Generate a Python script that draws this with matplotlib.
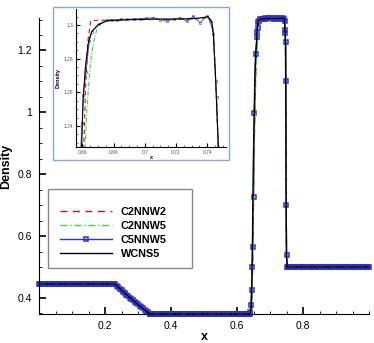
import numpy as np
import matplotlib
matplotlib.use("Agg")
import matplotlib.pyplot as plt
from matplotlib.patches import Rectangle
from matplotlib.ticker import MultipleLocator, FuncFormatter

plt.rcParams['font.family'] = ['Liberation Sans', 'DejaVu Sans']

# constant states
rho_left = 0.445
rho_low = 0.348
rho_right = 0.5

# rarefaction fan, the same for every scheme
x_fan = [0.230, 0.235, 0.240, 0.245, 0.250, 0.255, 0.260, 0.265, 0.270, 0.275, 0.280,
         0.285, 0.290, 0.295, 0.300, 0.305, 0.310, 0.315, 0.320, 0.325, 0.330, 0.335]
rho_fan = [0.445, 0.440, 0.435, 0.430, 0.425, 0.420, 0.416, 0.411, 0.406, 0.401, 0.397,
           0.392, 0.388, 0.383, 0.379, 0.374, 0.370, 0.366, 0.361, 0.357, 0.353, 0.348]

# contact / plateau / shock for each scheme
x_c2w2 = [0.642, 0.644, 0.646, 0.648, 0.650, 0.653, 0.656, 0.659, 0.661, 0.662, 0.6635,
          0.6654, 0.670, 0.690, 0.710, 0.730, 0.738, 0.7405, 0.7429, 0.744, 0.7455, 0.747,
          0.748, 0.749, 0.750, 0.752]
rho_c2w2 = [0.348, 0.36, 0.42, 0.55, 0.75, 0.95, 1.10, 1.20, 1.2276, 1.26, 1.29,
            1.3025, 1.3028, 1.3030, 1.3033, 1.3035, 1.3040, 1.3048, 1.3020, 1.294, 1.265, 1.2276,
            1.00, 0.70, 0.54, 0.50]

x_c2w5 = [0.642, 0.644, 0.646, 0.648, 0.650, 0.653, 0.656, 0.659, 0.6618, 0.663, 0.6645,
          0.666, 0.668, 0.670, 0.673, 0.680, 0.700, 0.720, 0.735, 0.7405, 0.7429, 0.744,
          0.7455, 0.747, 0.748, 0.749, 0.750, 0.752]
rho_c2w5 = [0.348, 0.36, 0.42, 0.55, 0.74, 0.93, 1.08, 1.18, 1.2276, 1.25, 1.27,
            1.283, 1.293, 1.299, 1.302, 1.3030, 1.3033, 1.3035, 1.3040, 1.3048, 1.3020, 1.294,
            1.266, 1.2276, 1.00, 0.70, 0.54, 0.50]

x_c5w5 = [0.638, 0.640, 0.642, 0.644, 0.646, 0.648, 0.650, 0.653, 0.6565, 0.660, 0.6607,
          0.6624, 0.6645, 0.666, 0.6705, 0.6756, 0.6790, 0.6820, 0.6850, 0.6884, 0.6930,
          0.6970, 0.7010, 0.7055, 0.7100, 0.7140, 0.7185, 0.7226, 0.7268, 0.7311, 0.7354,
          0.7396, 0.7418, 0.7440, 0.7454, 0.7460, 0.7471, 0.748, 0.749, 0.750, 0.752]
rho_c5w5 = [0.348, 0.356, 0.378, 0.424, 0.501, 0.565, 0.727, 0.998, 1.188, 1.242, 1.2586,
            1.272, 1.2905, 1.2958, 1.3005, 1.3029, 1.3031, 1.3030, 1.3034, 1.3033, 1.3036,
            1.3037, 1.3040, 1.3043, 1.3032, 1.3023, 1.3035, 1.3043, 1.3022, 1.3052, 1.3013,
            1.3052, 1.3023, 1.2947, 1.267, 1.257, 1.2276, 1.10, 0.70, 0.54, 0.50]

x_wcns = [0.641, 0.643, 0.645, 0.647, 0.649, 0.652, 0.655, 0.6575, 0.6596, 0.6605, 0.662,
          0.664, 0.666, 0.670, 0.676, 0.690, 0.705, 0.720, 0.732, 0.738, 0.7405, 0.7429,
          0.7439, 0.7454, 0.7471, 0.748, 0.749, 0.750, 0.752]
rho_wcns = [0.348, 0.37, 0.45, 0.60, 0.80, 1.00, 1.15, 1.20, 1.2276, 1.255, 1.275,
            1.290, 1.296, 1.300, 1.3025, 1.3032, 1.3035, 1.3035, 1.3038, 1.3045, 1.3050, 1.3020,
            1.295, 1.267, 1.2276, 1.00, 0.70, 0.54, 0.50]

labels = ['C2NNW2', 'C2NNW5', 'C5NNW5', 'WCNS5']

dx = 0.0025  # mesh spacing of the markers on the flat states


def line_curve(xs, rs):
    return [0.0] + x_fan + xs + [1.0], [rho_left] + rho_fan + rs + [rho_right]


def marker_curve(xs, rs):
    xl = list(np.arange(0.0, 0.2299, dx))
    xm = list(np.arange(0.3375, 0.6375, dx))
    xr = list(np.arange(0.755, 1.0001, dx))
    x = xl + x_fan + xm + xs + xr
    r = [rho_left] * len(xl) + rho_fan + [rho_low] * len(xm) + rs + [rho_right] * len(xr)
    return x, r


c_red = '#cc1111'
c_green = '#33dd33'
c_blue = '#2e2ee0'

fig = plt.figure(figsize=(3.74, 3.43), dpi=100)
ax = fig.add_axes([39 / 374, 29 / 343, 330 / 374, 296 / 343])

xb, rb = marker_curve(x_c5w5, rho_c5w5)
ax.plot(xb, rb, color=c_blue, lw=1, marker='s', ms=3.4, mfc='none', mew=1.1,
        label=labels[2], zorder=2, clip_on=False)
x2, r2 = line_curve(x_c2w2, rho_c2w2)
ax.plot(x2, r2, color=c_red, lw=1, ls=(0, (5, 4)), label=labels[0], zorder=3, clip_on=False)
x5, r5 = line_curve(x_c2w5, rho_c2w5)
ax.plot(x5, r5, color=c_green, lw=1, ls=(0, (5, 2, 1, 2)), label=labels[1], zorder=3, clip_on=False)
xw, rw = line_curve(x_wcns, rho_wcns)
ax.plot(xw, rw, color='black', lw=1, label=labels[3], zorder=4, clip_on=False)

ax.set_xlim(0, 1)
ax.set_ylim(0.348, 1.305)
ax.spines['top'].set_visible(False)
ax.spines['right'].set_visible(False)
ax.set_xticks([0.2, 0.4, 0.6, 0.8])
ax.set_yticks([0.4, 0.6, 0.8, 1.0, 1.2])
ax.xaxis.set_minor_locator(MultipleLocator(0.05))
ax.yaxis.set_minor_locator(MultipleLocator(0.05))
ax.yaxis.set_major_formatter(FuncFormatter(lambda v, p: '%g' % v))
ax.tick_params(which='major', direction='in', length=5, width=1.2, labelsize=7.5, pad=5)
ax.tick_params(which='minor', direction='in', length=2.5, width=0.6)
ax.set_xlabel('x', fontsize=9, fontweight='bold', labelpad=0)
ax.set_ylabel('Density', fontsize=9, fontweight='bold', labelpad=4)

# legend with its own frame
ax.add_patch(Rectangle((0.0282, 0.1544), 0.4345, 0.2669, transform=ax.transAxes,
                       facecolor='white', edgecolor='#888888', lw=1, zorder=5))
h, l = ax.get_legend_handles_labels()
order = [l.index(s) for s in labels]
leg = ax.legend([h[i] for i in order], [l[i] for i in order], loc='upper left',
                bbox_to_anchor=(0.0636, 0.362), frameon=False, borderpad=0,
                borderaxespad=0, handlelength=4.8, handletextpad=0.8, labelspacing=0.36,
                prop={'size': 7.8, 'weight': 'bold'})
leg.set_zorder(6)

# inset
fig.add_artist(Rectangle((53 / 374, 183 / 343), 176 / 374, 153 / 343, transform=fig.transFigure,
                         facecolor='white', edgecolor='#8aa4d4', lw=1, zorder=1))
ins = fig.add_axes([76 / 374, 196 / 343, 150 / 374, 138 / 343])
ins.set_zorder(2)
ins.patch.set_alpha(0)
ins.plot(xb, rb, color=c_blue, lw=0.7, marker='s', ms=2, mfc='none', mew=0.5, alpha=0.8)
ins.plot(x2, r2, color=c_red, lw=0.8, ls=(0, (4, 3)))
ins.plot(x5, r5, color=c_green, lw=0.8, ls=(0, (4, 1.5, 1, 1.5)))
ins.plot(xw, rw, color='black', lw=0.8)
ins.set_xlim(0.656, 0.752)
ins.set_ylim(1.2275, 1.3095)
ins.spines['top'].set_visible(False)
ins.spines['right'].set_visible(False)
ins.set_xticks([0.66, 0.68, 0.70, 0.72, 0.74])
ins.set_yticks([1.24, 1.26, 1.28, 1.30])
ins.xaxis.set_major_formatter(FuncFormatter(lambda v, p: '%g' % v))
ins.yaxis.set_major_formatter(FuncFormatter(lambda v, p: '%g' % v))
ins.xaxis.set_minor_locator(MultipleLocator(0.005))
ins.yaxis.set_minor_locator(MultipleLocator(0.005))
ins.tick_params(which='major', direction='in', length=3, width=0.8, labelsize=3.5,
                pad=2, labelcolor='#555555')
ins.tick_params(which='minor', direction='in', length=1.5, width=0.4)
ins.set_xlabel('x', fontsize=4, fontweight='bold', labelpad=0.5)
ins.set_ylabel('Density', fontsize=4, fontweight='bold', labelpad=2)

fig.savefig('out.png', dpi=100)
